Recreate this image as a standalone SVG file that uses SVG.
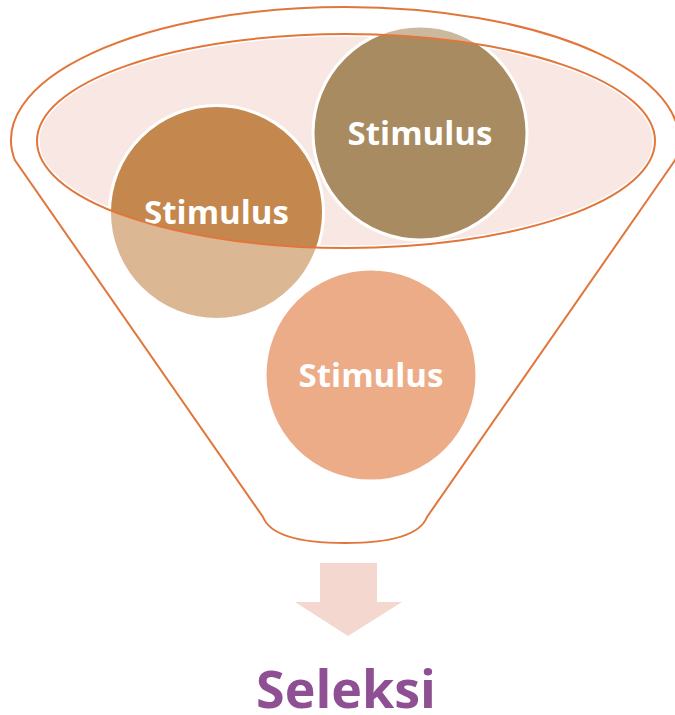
<svg xmlns="http://www.w3.org/2000/svg" width="675" height="715" viewBox="0 0 675 715">
<style>
.line{fill:none;stroke:#E2763A;stroke-width:2}
.circ{stroke:#FFFFFF;stroke-width:3}
.lbl{font-family:"Open Sans","DejaVu Sans",sans-serif;font-weight:bold;font-size:33px;fill:#FFFFFF;text-anchor:middle}
</style>
<rect width="675" height="715" fill="#FFFFFF"/>
<g id="funnel-opening">
<ellipse cx="346" cy="141" rx="309" ry="107" fill="#F8E7E2" stroke="#FFFFFF" stroke-width="5"/>
</g>
<g id="node-stimulus-1">
<circle class="circ" cx="216.5" cy="212.5" r="107" fill="#C4874D"/>
<text class="lbl" x="216.5" y="224">Stimulus</text>
</g>
<g id="node-stimulus-2">
<circle class="circ" cx="420" cy="133" r="107" fill="#A88B60"/>
<text class="lbl" x="420" y="145">Stimulus</text>
</g>
<g id="node-stimulus-3">
<circle class="circ" cx="371" cy="375" r="106" fill="#E1753A"/>
</g>
<g id="funnel-body">
<path fill="#FFFFFF" fill-opacity="0.4" fill-rule="evenodd" d="M14.8 160 A334 133 0 1 1 675.2 160 L427 517 C420 535 390 543 345 543 C300 543 270 535 263 517 Z M37 141 A309 107 0 1 0 655 141 A309 107 0 1 0 37 141 Z"/>
<path class="line" d="M14.8 160 A334 133 0 1 1 675.2 160 L427 517 C420 535 390 543 345 543 C300 543 270 535 263 517 Z"/>
<ellipse class="line" cx="346" cy="141" rx="309" ry="107"/>
</g>
<g id="node-stimulus-3-label">
<text class="lbl" x="371" y="387">Stimulus</text>
</g>
<g id="connectors">
<path d="M320 563 H377 V602 H402 L348 636 L295 602 H320 Z" fill="#F4D7CE"/>
</g>
<g id="node-seleksi">
<text x="346" y="708" font-family="'Open Sans','DejaVu Sans',sans-serif" font-weight="bold" font-size="52" fill="#8F4F93" text-anchor="middle">Seleksi</text>
</g>
</svg>
